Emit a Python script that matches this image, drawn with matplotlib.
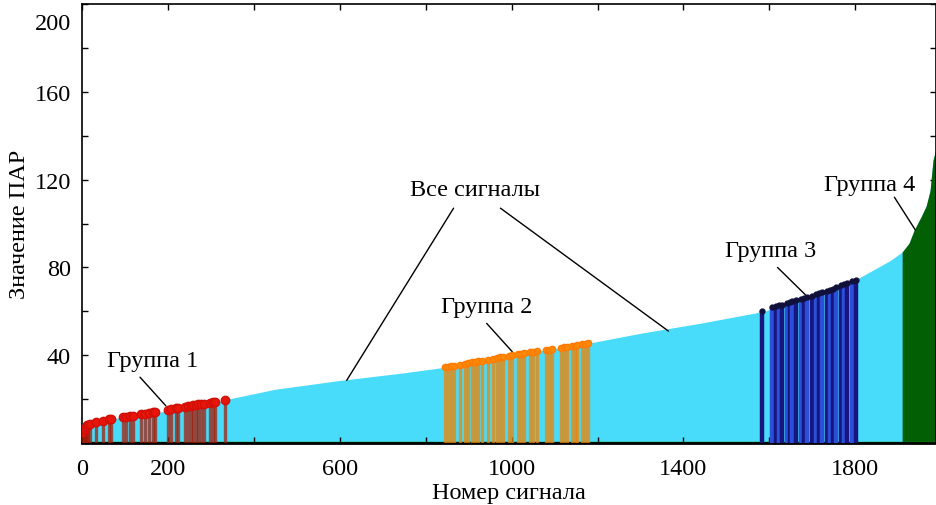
import matplotlib
matplotlib.use("Agg")
import matplotlib.pyplot as plt
import matplotlib.transforms as mtransforms

# sorted PAR values (envelope)
curve_idx = [0, 5, 15, 40, 65, 110, 180, 215, 275, 320, 340, 450, 600, 750, 844,
             1000, 1180, 1300, 1437, 1588, 1690, 1802, 1880, 1909, 1925, 1937,
             1953, 1965, 1974, 1981, 1988]
curve_val = [4, 7, 8.5, 9.5, 11, 12, 14, 15.5, 17.7, 19, 20, 24.5, 28.5, 32, 34.5,
             40, 45.5, 50, 54.5, 60, 67, 74.5, 83, 87, 91, 97,
             103, 108, 115, 129, 134]

# group 1 stems
g1_idx = [2, 4, 6, 9, 12, 15, 18, 33, 49, 64, 68, 95, 103, 111, 119, 138, 146, 157,
          165, 169, 200, 208, 219, 223, 239, 246, 254, 258, 266, 270, 277, 285,
          297, 305, 309, 332]
g1_val = [5.2, 6.0, 6.5, 7.4, 8.0, 8.3, 8.5, 9.5, 10, 10.8, 11, 11.8, 12, 12.2,
          12.5, 13, 13.3, 13.6, 14, 14.1, 15, 15.3, 15.8, 16, 16.5, 16.8, 17,
          17.1, 17.4, 17.6, 17.8, 18, 18.4, 18.6, 18.7, 19.5]

# group 2 stems
g2_idx = [844, 851, 860, 867, 879, 891, 898, 907, 914, 921, 930, 944, 956, 965,
          972, 979, 993, 1002, 1014, 1023, 1030, 1042, 1049, 1058, 1081, 1086,
          1095, 1116, 1123, 1130, 1140, 1147, 1153, 1163, 1170, 1177]
g2_val = [34.5, 34.8, 35.1, 35.3, 35.7, 36.1, 36.4, 36.7, 37, 37.2, 37.5, 38,
          38.5, 38.8, 39, 39.3, 39.8, 40.1, 40.4, 40.7, 40.9, 41.3, 41.5, 41.8,
          42.5, 42.6, 42.9, 43.5, 43.7, 43.9, 44.2, 44.4, 44.6, 44.9, 45.1, 45.4]

# group 3 stems
g3_idx = [1584, 1607, 1616, 1623, 1630, 1640, 1647, 1653, 1663, 1674, 1681, 1688,
          1700, 1709, 1716, 1723, 1733, 1740, 1747, 1756, 1767, 1774, 1781, 1793,
          1802]
g3_val = [60, 61.8, 62.3, 62.7, 63.1, 63.7, 64.1, 64.5, 65, 65.6, 66, 66.4, 67.2,
          67.8, 68.3, 68.7, 69.4, 69.9, 70.4, 71, 71.8, 72.3, 72.8, 73.8, 74.5]

g4_start = 1909

x_ticks = [0, 200, 400, 600, 800, 1000, 1200, 1400, 1600, 1800]
x_labels = ["0", "200", "", "600", "", "1000", "", "1400", "", "1800"]
y_ticks = [20, 40, 60, 80, 100, 120, 140, 160, 180, 200]
y_labels = ["", "40", "", "80", "", "120", "", "160", "", "200"]

plt.rcParams['font.family'] = ['Liberation Serif', 'DejaVu Serif']
plt.rcParams['font.size'] = 17.5

fig = plt.figure(figsize=(9.37, 5.06), dpi=100)
ax = fig.add_axes([0.0875, 0.1225, 0.9115, 0.8675])

ax.fill_between(curve_idx, curve_val, 0, color='#48dbfa', lw=0, zorder=1)
k = curve_idx.index(g4_start)
ax.fill_between(curve_idx[k:], curve_val[k:], 0, color='#035f03', lw=0, zorder=2)

ax.vlines(g1_idx, 0, g1_val, color='#a51a05', alpha=0.72, lw=2.4, zorder=3)
ax.plot(g1_idx, g1_val, 'o', color='#e8160a', ms=6, mec='#d01008', zorder=4)

ax.vlines(g2_idx, 0, g2_val, color='#ef8406', alpha=0.75, lw=2.4, zorder=3)
ax.plot(g2_idx, g2_val, 'o', color='#ff8a00', ms=4.5, mec='#ff7a00', zorder=4)

g3_cols = ['#16167e' if i % 2 == 0 else '#2b4fd8' for i in range(len(g3_idx))]
ax.vlines(g3_idx, 0, g3_val, colors=g3_cols, lw=3.2, zorder=3)
ax.plot(g3_idx[1:], g3_val[1:], '-', color='#6a2a70', lw=1.2, zorder=4)
ax.plot(g3_idx, g3_val, 'o', color='#10103a', ms=3.5, mec='#10103a', zorder=5)

ax.axhline(0, color='#0a8a0a', lw=2.5, zorder=2)

arrow = dict(arrowstyle='-', color='black', lw=1, shrinkA=0, shrinkB=0)
ax.text(165, 37.5, "Группа 1", ha='center', va='center')
ax.annotate("", xy=(195, 17), xytext=(135, 30), arrowprops=arrow)
ax.text(914, 115.5, "Все сигналы", ha='center', va='center')
ax.annotate("", xy=(616, 28.5), xytext=(865, 107), arrowprops=arrow)
ax.annotate("", xy=(1365, 51), xytext=(974, 107), arrowprops=arrow)
ax.text(942, 62, "Группа 2", ha='center', va='center')
ax.annotate("", xy=(1002, 41.5), xytext=(942, 54.5), arrowprops=arrow)
ax.text(1602, 87.7, "Группа 3", ha='center', va='center')
ax.annotate("", xy=(1684, 67.5), xytext=(1619, 80), arrowprops=arrow)
ax.text(1833, 118, "Группа 4", ha='center', va='center')
ax.annotate("", xy=(1940, 97), xytext=(1891, 112), arrowprops=arrow)

ax.set_xlim(0, 1988)
ax.set_ylim(0, 200)
ax.set_xticks(x_ticks)
ax.set_xticklabels(x_labels)
ax.set_yticks(y_ticks)
ax.set_yticklabels(y_labels)
ax.tick_params(direction='in', top=True, right=True, length=4, width=1)
ax.tick_params(axis='x', pad=11)
ax.tick_params(axis='y', pad=8)

# the top label sits a little lower in the original
lab = ax.get_yticklabels()[-1]
lab.set_transform(lab.get_transform() + mtransforms.ScaledTranslation(0, -0.17, fig.dpi_scale_trans))

for s in ax.spines.values():
    s.set_linewidth(1.2)
ax.spines['bottom'].set_linewidth(2)

ax.set_xlabel("Номер сигнала", labelpad=2)
ax.set_ylabel("Значение ПАР", labelpad=3)

fig.savefig("out.png", dpi=100)
